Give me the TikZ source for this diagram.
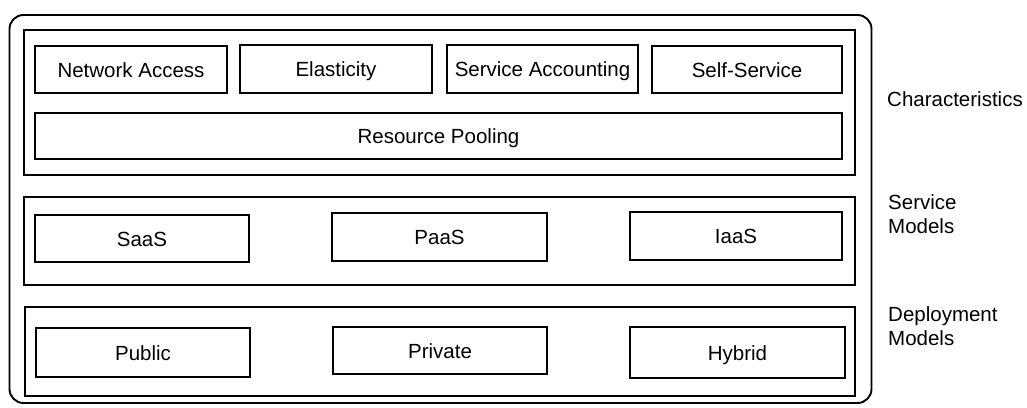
\documentclass[tikz,border=0pt]{standalone}
\usepackage{fontspec}
\setmainfont{Liberation Sans}
\begin{document}
\begin{tikzpicture}[x=1pt,y=-1pt,
  every node/.style={font=\fontsize{20.5}{24}\selectfont},
  frame/.style={draw,line width=1.9pt,rounded corners=14pt,inner sep=0pt},
  layer/.style={draw,line width=1.9pt,inner sep=0pt},
  item/.style={draw,line width=1.9pt,inner sep=0pt,align=center,
    text height=15pt,text depth=0pt},
  sidelabel/.style={anchor=base west,align=left,inner sep=0pt}]
  \useasboundingbox (0,0) rectangle (1027,407);

  % outer frame and the three layers
  \node[frame,minimum width=862pt,minimum height=388pt] (outer) at (440.5,209) {};
  \node[layer,minimum width=831pt,minimum height=145pt] (chars) at (439.5,102.5) {};
  \node[layer,minimum width=831pt,minimum height=88pt] (svc) at (439.5,241) {};
  \node[layer,minimum width=830pt,minimum height=89pt] (dep) at (440,351.5) {};

  % characteristics
  \node[item,minimum width=192pt,minimum height=47pt] (na) at (131,69.5) {Network Access};
  \node[item,minimum width=192pt,minimum height=48pt] (el) at (336,69) {Elasticity};
  \node[item,minimum width=191pt,minimum height=48pt] (sa) at (542.5,69) {Service Accounting};
  \node[item,minimum width=190pt,minimum height=47pt] (ss) at (747,69.5) {Self-Service};
  \node[item,minimum width=807pt,minimum height=46pt] (rp) at (438.5,136) {Resource Pooling};

  % service models
  \node[item,minimum width=214pt,minimum height=47pt] (saas) at (142,238.5) {SaaS};
  \node[item,minimum width=215pt,minimum height=48pt] (paas) at (439.5,237) {PaaS};
  \node[item,minimum width=212pt,minimum height=48pt] (iaas) at (736,236) {IaaS};

  % deployment models
  \node[item,minimum width=214pt,minimum height=49pt] (pub) at (143,352.5) {Public};
  \node[item,minimum width=214pt,minimum height=47pt] (priv) at (440,350.5) {Private};
  \node[item,minimum width=215pt,minimum height=51pt] (hyb) at (737.5,352.5) {Hybrid};

  % layer captions
  \node[sidelabel] (lchars) at (887,106) {Characteristics};
  \node[sidelabel] (lsvc) at (888,233) {Service\\Models};
  \node[sidelabel] (ldep) at (888,345) {Deployment\\Models};
\end{tikzpicture}
\end{document}
